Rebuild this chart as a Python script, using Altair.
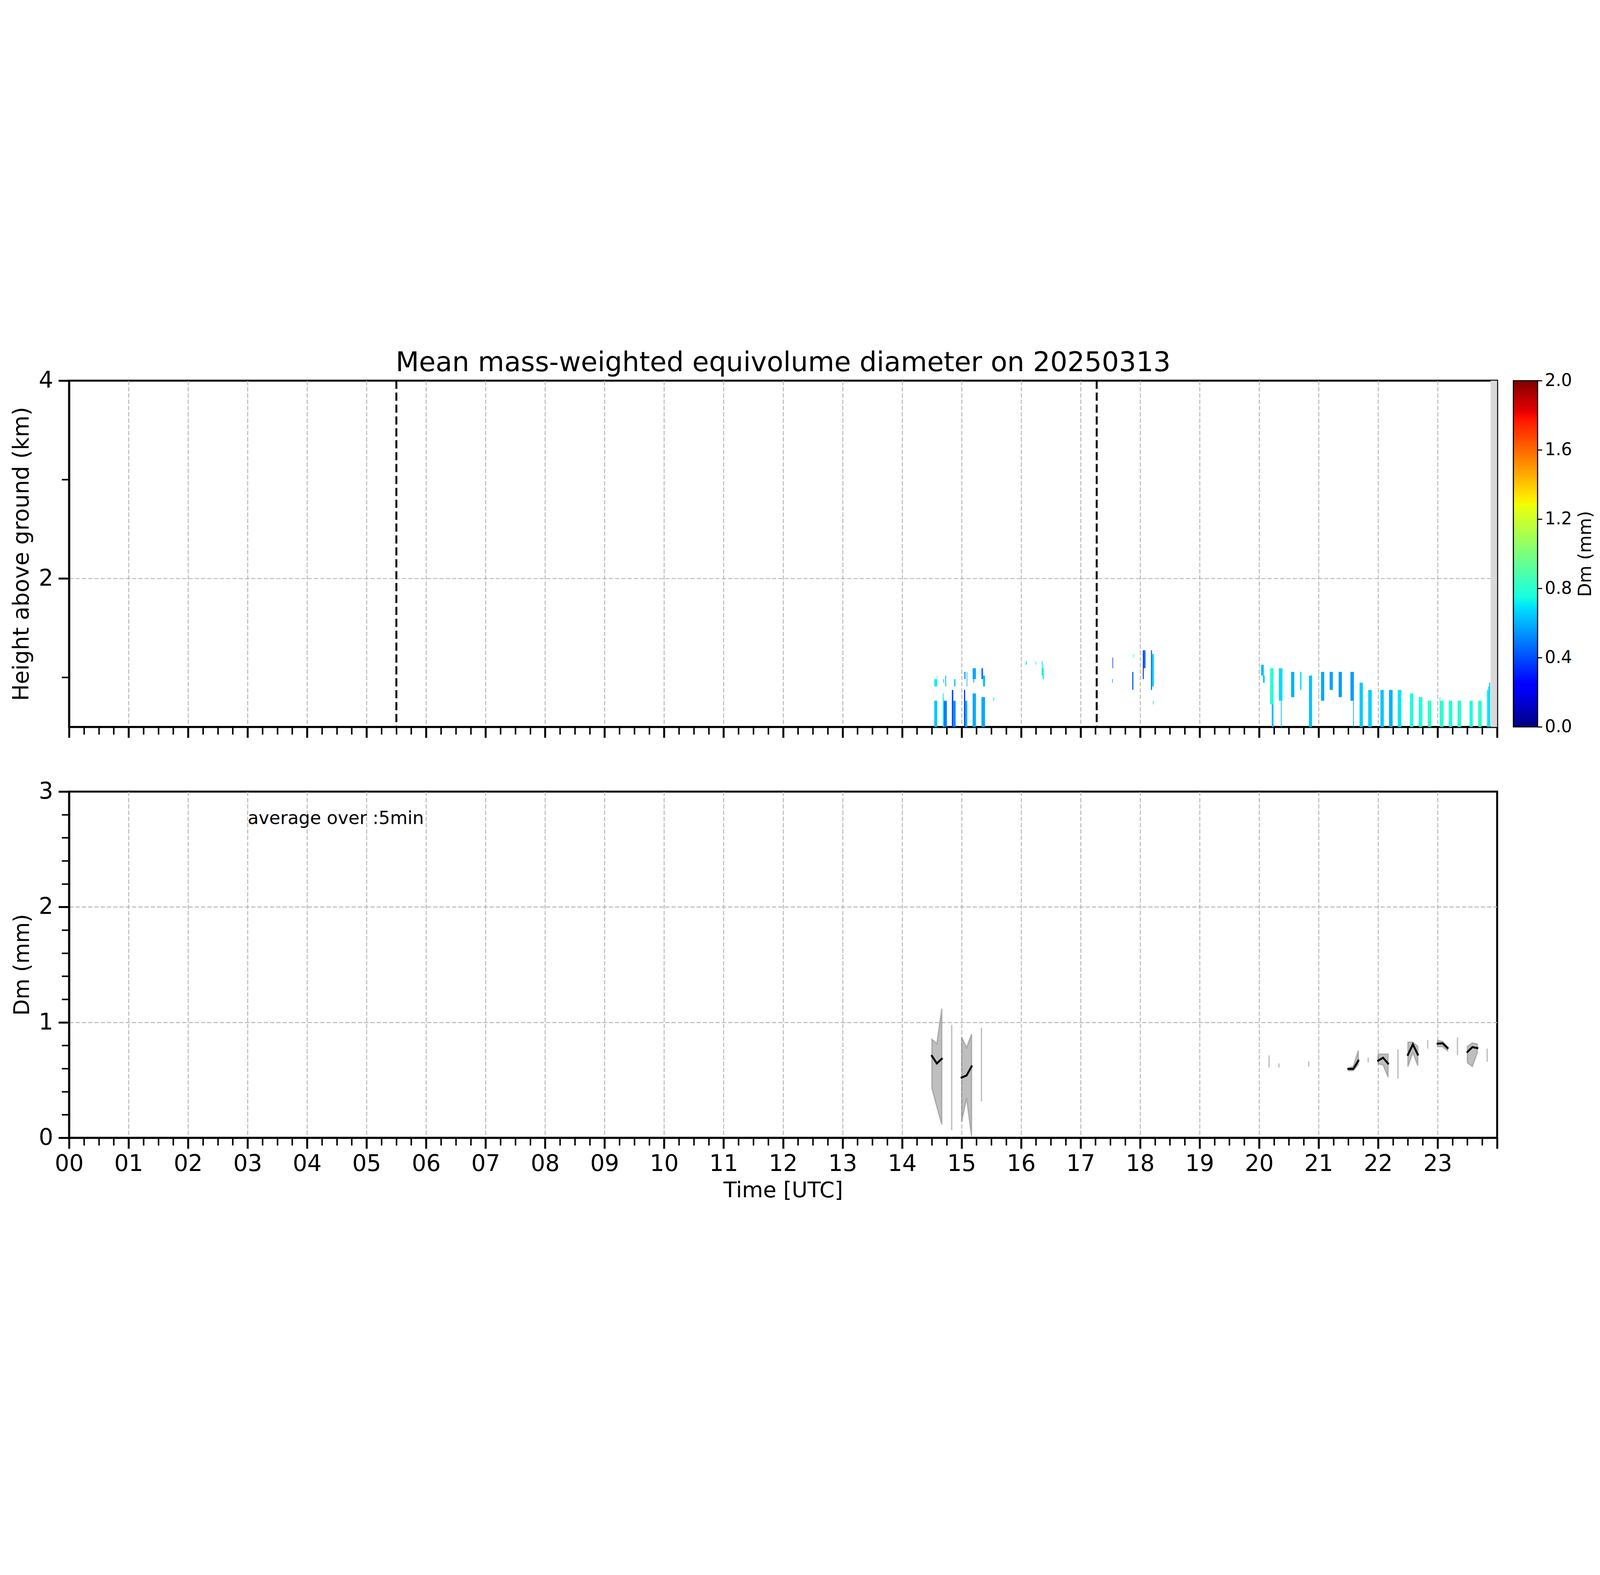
import altair as alt
import pandas as pd

FONT = "DejaVu Sans"
W = 6601
H = 1600

# ---------------- top panel: Dm cells (t0, t1 [h UTC], h0, h1 [km], Dm [mm]) ----------------
cells_1430 = [
    (14.54, 14.59, 0.50, 0.764, 0.64), (14.54, 14.59, 0.909, 0.983, 0.72), (14.585, 14.592, 0.983, 1.019, 0.70),
    (14.684, 14.70, 0.50, 0.838, 0.74), (14.70, 14.751, 0.50, 0.764, 0.50), (14.69, 14.70, 0.947, 0.983, 0.60),
    (14.725, 14.74, 0.909, 1.019, 0.64),
    (14.836, 14.86, 0.50, 0.874, 0.38), (14.86, 14.899, 0.50, 0.764, 0.52), (14.875, 14.895, 0.909, 0.983, 0.62),
    (15.04, 15.06, 0.50, 0.874, 0.36), (15.06, 15.095, 0.50, 0.764, 0.60), (15.045, 15.065, 0.983, 1.056, 0.54),
    (15.085, 15.095, 0.909, 1.056, 0.58),
    (15.185, 15.24, 0.50, 0.838, 0.58), (15.185, 15.24, 0.983, 1.093, 0.58), (15.20, 15.21, 0.947, 0.983, 0.44),
    (15.333, 15.393, 0.50, 0.801, 0.58), (15.333, 15.36, 0.983, 1.093, 0.46), (15.36, 15.393, 0.909, 1.019, 0.62),
    (15.53, 15.545, 0.764, 0.801, 0.80),
]
cells_1600 = [
    (16.076, 16.095, 1.127, 1.164, 0.72), (16.243, 16.252, 1.127, 1.164, 0.72),
    (16.346, 16.36, 1.019, 1.164, 0.70), (16.36, 16.382, 0.983, 1.093, 0.74),
]
cells_1730 = [
    (17.534, 17.545, 1.093, 1.201, 0.40), (17.53, 17.54, 0.947, 0.983, 0.55),
    (17.868, 17.886, 0.874, 1.056, 0.40), (17.88, 17.89, 1.201, 1.236, 0.78),
    (18.046, 18.06, 0.983, 1.274, 0.30), (18.06, 18.09, 1.093, 1.274, 0.46),
    (18.182, 18.20, 0.874, 1.274, 0.44), (18.20, 18.231, 0.909, 1.236, 0.66),
    (18.215, 18.225, 0.728, 0.764, 0.70),
]
cells_2000 = [
    (20.033, 20.078, 1.019, 1.128, 0.62), (20.065, 20.093, 0.947, 1.019, 0.64),
    (20.184, 20.241, 0.728, 1.093, 0.78), (20.212, 20.241, 0.50, 0.728, 0.62),
    (20.332, 20.392, 0.764, 1.093, 0.68), (20.365, 20.377, 0.50, 0.764, 0.62),
    (20.537, 20.591, 0.801, 1.056, 0.60), (20.687, 20.711, 0.874, 1.056, 0.70),
    (20.838, 20.889, 0.50, 1.019, 0.63), (21.04, 21.094, 0.764, 1.056, 0.58),
    (21.185, 21.239, 0.874, 1.056, 0.57), (21.336, 21.39, 0.801, 1.056, 0.56),
    (21.535, 21.592, 0.764, 1.056, 0.56), (21.58, 21.592, 0.50, 0.764, 0.60),
    (21.688, 21.743, 0.50, 0.947, 0.65), (21.833, 21.893, 0.50, 0.874, 0.66),
    (22.038, 22.095, 0.50, 0.874, 0.64), (22.183, 22.243, 0.50, 0.874, 0.60),
    (22.33, 22.39, 0.50, 0.874, 0.70), (22.535, 22.59, 0.50, 0.838, 0.76),
    (22.683, 22.743, 0.50, 0.801, 0.77), (22.834, 22.894, 0.50, 0.764, 0.80),
    (23.033, 23.099, 0.50, 0.764, 0.80), (23.033, 23.045, 0.764, 0.801, 0.80),
    (23.187, 23.247, 0.50, 0.764, 0.79), (23.334, 23.395, 0.50, 0.764, 0.80),
    (23.536, 23.59, 0.50, 0.764, 0.76), (23.681, 23.741, 0.50, 0.764, 0.80),
    (23.829, 23.85, 0.50, 0.874, 0.72), (23.85, 23.865, 0.50, 0.909, 0.70),
    (23.865, 23.883, 0.50, 0.947, 0.66),
]
nodata_t0 = [23.89]
nodata_t1 = [24.0]
nodata_h0 = [0.5]
nodata_h1 = [4.0]
marker_t = [5.5, 17.27]

# ---------------- bottom panel: 5-min mean Dm with spread ----------------
seg_id = [1, 1, 1, 2, 2, 2, 3, 3, 3, 4, 4, 4, 5, 5, 5, 6, 6, 6, 7, 7, 7]
seg_t = [14.5, 14.583, 14.667, 15.0, 15.083, 15.167, 21.5, 21.583, 21.667,
         22.0, 22.083, 22.167, 22.5, 22.583, 22.667, 23.0, 23.083, 23.167,
         23.5, 23.583, 23.667]
seg_mean = [0.71, 0.645, 0.685, 0.522, 0.54, 0.619, 0.597, 0.597, 0.669,
            0.669, 0.694, 0.644, 0.719, 0.81, 0.721, 0.816, 0.819, 0.778,
            0.744, 0.786, 0.778]
seg_hi = [0.855, 0.815, 1.12, 0.872, 0.782, 0.899, 0.605, 0.62, 0.757,
          0.726, 0.726, 0.726, 0.829, 0.829, 0.791, 0.845, 0.835, 0.79,
          0.791, 0.823, 0.813]
seg_lo = [0.43, 0.27, 0.115, 0.14, 0.343, 0.011, 0.582, 0.582, 0.634,
          0.641, 0.632, 0.525, 0.617, 0.738, 0.625, 0.79, 0.79, 0.754,
          0.651, 0.618, 0.738]
single_t = [14.833, 15.333, 20.167, 20.333, 20.833, 21.833, 22.333, 22.833, 23.333, 23.833]
single_hi = [0.979, 0.953, 0.714, 0.644, 0.661, 0.694, 0.767, 0.848, 0.869, 0.773]
single_lo = [0.067, 0.316, 0.609, 0.609, 0.617, 0.653, 0.512, 0.773, 0.718, 0.66]
note_t = [3.0]
note_y = [2.72]
note_text = ["average over :5min"]

# jet colormap (breakpoints in Dm units)
jet_domain = [0.0, 0.22, 0.25, 0.68, 0.70, 0.75, 1.28, 1.30, 1.32, 1.78, 1.82, 2.0]
jet_colors = ["#000080", "#0000ff", "#0000ff", "#00dbff", "#00e6f7", "#14ffe2",
              "#eeff08", "#f7f500", "#ffec00", "#ff1300", "#e80000", "#800000"]
cbar_lo = [0.0]
cbar_hi = [2.0]
cbar_ticks = [0.0, 0.4, 0.8, 1.2, 1.6, 2.0]

hour_ticks = [q / 4 for q in range(0, 97)]
top_y_ticks = [1, 2, 3, 4]
dm_ticks = [0, 0.2, 0.4, 0.6, 0.8, 1, 1.2, 1.4, 1.6, 1.8, 2, 2.2, 2.4, 2.6, 2.8, 3]

cells = pd.DataFrame(cells_1430 + cells_1600 + cells_1730 + cells_2000,
                     columns=["t0", "t1", "h0", "h1", "dm"])
nodata = pd.DataFrame({"t0": nodata_t0, "t1": nodata_t1, "h0": nodata_h0, "h1": nodata_h1})
markers = pd.DataFrame({"t": marker_t})
segs = pd.DataFrame({"seg": seg_id, "t": seg_t, "mean": seg_mean, "hi": seg_hi, "lo": seg_lo})
singles = pd.DataFrame({"t": single_t, "hi": single_hi, "lo": single_lo})
note = pd.DataFrame({"t": note_t, "y": note_y, "label": note_text})
cbar = pd.DataFrame({"lo": cbar_lo, "hi": cbar_hi})


def cond(test, a, b):
    return {"condition": {"test": test, "value": a}, "value": b}


TLIM = 1580  # below the 1600 px axis length, above the longest title
HOUR_MAJ = "datum.value % 1 === 0"
HOUR_GRID = "datum.value % 1 === 0 && datum.value > 0 && datum.value < 24"
GRID = dict(gridDash=[20, 9], gridColor="#b0b0b0", gridWidth=4)
COMMON = dict(domainColor="black", domainWidth=9, tickColor="black", labelColor="black",
              labelFont=FONT, titleFont=FONT, titleColor="black", titleFontWeight="normal",
              labelOverlap=False, labelFlush=False, titleLimit=TLIM)

x_scale = alt.Scale(domain=[0, 24], nice=False, zero=False)


def x_axis(labels):
    kw = dict(values=hour_ticks, tickSize=cond(HOUR_MAJ, 50, 35), tickWidth=cond(HOUR_MAJ, 9, 7),
              grid=True, gridOpacity=cond(HOUR_GRID, 1, 0), **GRID, **COMMON)
    if labels:
        kw.update(labelExpr="datum.value % 1 === 0 && datum.value < 24 ? (datum.value < 10 ? '0' + datum.value : '' + datum.value) : ''",
                  labelFontSize=105, labelPadding=20, title="Time [UTC]", titleFontSize=100, titlePadding=20)
    else:
        kw.update(labels=False, title=None)
    return alt.Axis(**kw)


TOP_MAJ = "datum.value % 2 === 0"
top_y_axis = alt.Axis(values=top_y_ticks, labelExpr="datum.value % 2 === 0 ? '' + datum.value : ''",
                      tickSize=cond(TOP_MAJ, 49, 34), tickWidth=cond(TOP_MAJ, 9, 7),
                      grid=True, gridOpacity=cond("datum.value === 2", 1, 0), **GRID, **COMMON,
                      labelFontSize=105, labelPadding=25, title="Height above ground (km)",
                      titleFontSize=103, titlePadding=25)
top_y_scale = alt.Scale(domain=[0.5, 4], nice=False, zero=False)

DM_MAJ = "abs(datum.value - round(datum.value)) < 0.001"
dm_axis = alt.Axis(values=dm_ticks, labelExpr="abs(datum.value - round(datum.value)) < 0.001 ? '' + round(datum.value) : ''",
                   tickSize=cond(DM_MAJ, 49, 34), tickWidth=cond(DM_MAJ, 9, 7),
                   grid=True, gridOpacity=cond("datum.value === 1 || datum.value === 2", 1, 0),
                   **GRID, **COMMON,
                   labelFontSize=105, labelPadding=25, title="Dm (mm)",
                   titleFontSize=98, titlePadding=25)
dm_scale = alt.Scale(domain=[0, 3], nice=False, zero=False)

color_scale = alt.Scale(domain=jet_domain, range=jet_colors, interpolate="rgb")

# ---------- top chart ----------
band = alt.Chart(nodata).mark_rect(color="#d9d9d9").encode(
    x=alt.X("t0:Q", scale=x_scale, axis=x_axis(False)),
    x2="t1:Q",
    y=alt.Y("h0:Q", scale=top_y_scale, axis=top_y_axis),
    y2="h1:Q",
)
heat = alt.Chart(cells).mark_rect().encode(
    x=alt.X("t0:Q", scale=x_scale),
    x2="t1:Q",
    y=alt.Y("h0:Q", scale=top_y_scale),
    y2="h1:Q",
    color=alt.Color("dm:Q", scale=color_scale, legend=None),
)
vlines = alt.Chart(markers).mark_rule(color="black", strokeWidth=9, strokeDash=[38, 17]).encode(
    x=alt.X("t:Q", scale=x_scale),
)

# colorbar drawn beside the plot, on its own y scale (0-2 mm)
CB_GAP, CB_W = 75, 112
grad = {"gradient": "linear", "x1": 0, "y1": 1, "x2": 0, "y2": 0,
        "stops": [{"offset": d / 2.0, "color": c} for d, c in zip(jet_domain, jet_colors)]}
cbar_layer = alt.Chart(cbar).mark_rect(fill=grad, stroke="black", strokeWidth=5).encode(
    x=alt.value(W + CB_GAP), x2=alt.value(W + CB_GAP + CB_W),
    y=alt.Y("lo:Q", scale=alt.Scale(domain=[0, 2], nice=False, zero=False),
            axis=alt.Axis(orient="right", offset=CB_GAP + CB_W, values=cbar_ticks, format=".1f",
                          tickSize=21, tickWidth=5, grid=False, domain=False,
                          labelFontSize=79, labelPadding=12,
                          title="Dm (mm)", titleFontSize=83, titleAngle=270, titleBaseline="top",
                          titlePadding=22, tickColor="black", labelColor="black", labelFont=FONT,
                          titleFont=FONT, titleColor="black", titleFontWeight="normal",
                          labelFlush=False, labelOverlap=False, titleLimit=TLIM)),
    y2="hi:Q",
)

top = alt.layer(alt.layer(band, heat, vlines), cbar_layer).resolve_scale(y="independent").properties(
    width=W, height=H,
    title=alt.TitleParams("Mean mass-weighted equivolume diameter on 20250313", font=FONT,
                          fontSize=125, fontWeight="normal", anchor="middle", offset=-159,
                          baseline="bottom", color="black", frame="group"),
)

# ---------- bottom chart ----------
areas = alt.Chart(segs).mark_area(fill="#808080", fillOpacity=0.5, stroke="#808080",
                                  strokeOpacity=0.5, strokeWidth=6).encode(
    x=alt.X("t:Q", scale=x_scale, axis=x_axis(True)),
    y=alt.Y("lo:Q", scale=dm_scale, axis=dm_axis),
    y2="hi:Q",
    detail="seg:N",
)
lines = alt.Chart(segs).mark_line(color="black", strokeWidth=9, strokeCap="square").encode(
    x=alt.X("t:Q", scale=x_scale),
    y=alt.Y("mean:Q", scale=dm_scale),
    detail="seg:N",
)
rules = alt.Chart(singles).mark_rule(color="#808080", opacity=0.5, strokeWidth=6).encode(
    x=alt.X("t:Q", scale=x_scale),
    y=alt.Y("lo:Q", scale=dm_scale),
    y2="hi:Q",
)
text = alt.Chart(note).mark_text(align="left", baseline="alphabetic", fontSize=83, font=FONT,
                                 color="black").encode(
    x=alt.X("t:Q", scale=x_scale),
    y=alt.Y("y:Q", scale=dm_scale),
    text="label:N",
)
bottom = alt.layer(areas, rules, lines, text).properties(width=W, height=H)

chart = alt.vconcat(top, bottom, spacing=299, bounds="flush").properties(
    padding={"left": 30, "top": 3, "right": 5, "bottom": 5},
    background="white",
).configure_view(stroke="black", strokeWidth=9, fill="white")

chart.save("out.html", embed_options={"renderer": "svg", "actions": False})
